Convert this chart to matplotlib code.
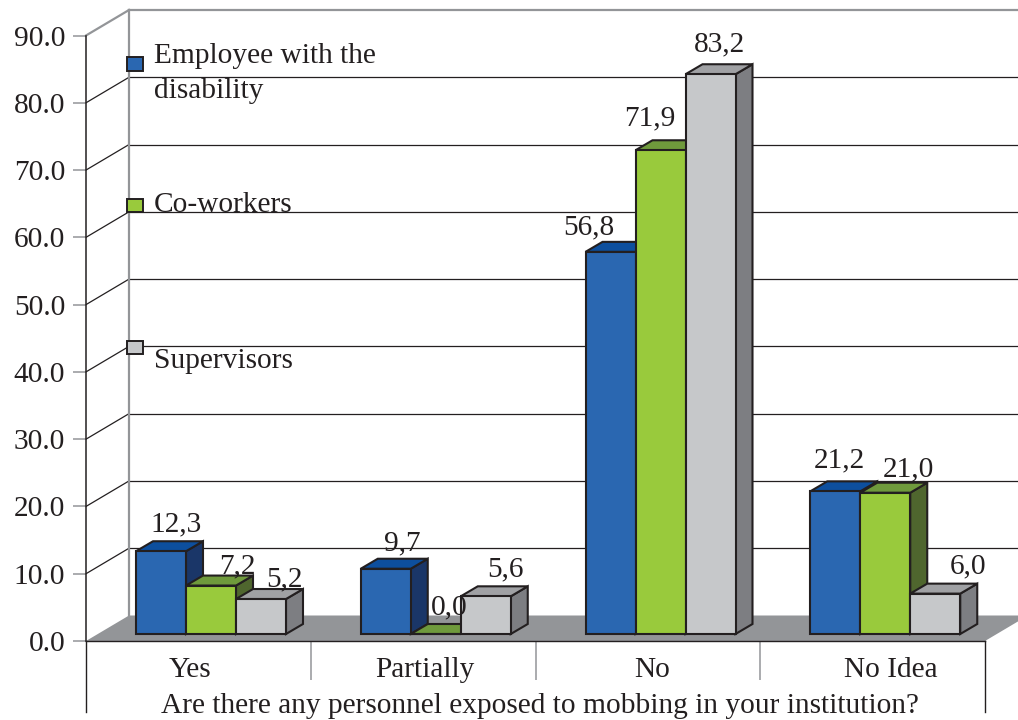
import matplotlib
matplotlib.use("Agg")
import matplotlib.pyplot as plt
from matplotlib.patches import Rectangle
from matplotlib.ticker import FormatStrFormatter

# --- data ---
categories = ["Yes", "Partially", "No", "No Idea"]
series_names = ["Employee with the\ndisability", "Co-workers", "Supervisors"]
employee = [12.3, 9.7, 56.8, 21.2]
coworkers = [7.2, 0.0, 71.9, 21.0]
supervisors = [5.2, 5.6, 83.2, 6.0]
axis_title = "Are there any personnel exposed to mobbing in your institution?"
y_ticks = [0, 10, 20, 30, 40, 50, 60, 70, 80, 90]

# --- style / layout ---
W, H = 1018, 720
plt.rcParams["font.family"] = ["Liberation Serif", "DejaVu Serif"]
INK = "#231f20"
GREY = "#939598"
FS = 21.15
front = ["#2a67b1", "#99ca3c", "#c6c8ca"]
top = ["#0d4f9e", "#6f9a3c", "#a0a1a4"]
side = ["#1a3668", "#4f662e", "#7d7e82"]

L, R, B, T = 86, 985, 641, 35.5      # axes box in pixels
fig = plt.figure(figsize=(W / 100, H / 100), dpi=100)
ax = fig.add_axes([L / W, 1 - B / H, (R - L) / W, (B - T) / H])
ax.set_xlim(0, len(categories))
ax.set_ylim(0, 90)
sx = (R - L) / len(categories)   # px per category
sy = (B - T) / 90                # px per unit

wall_dx, wall_dy = 43 / sx, 25.5 / sy
bar_w = 50 / sx
bar_base = 7 / sy
bar_dx, bar_dy = 17 / sx, 10 / sy

# back wall and grid
for v in y_ticks:
    c = GREY if v in (0, 90) else INK
    lw = 1.6 if v == 90 else 0.9
    if v > 0:
        ax.plot([0, wall_dx], [v, v + wall_dy], color=c, lw=lw, clip_on=False, zorder=1)
        ax.plot([wall_dx, 4 + wall_dx], [v + wall_dy] * 2, color=c, lw=lw, clip_on=False, zorder=1)
ax.plot([wall_dx, wall_dx], [wall_dy, 90 + wall_dy], color=GREY, lw=1.6, clip_on=False, zorder=1)

# floor
ax.fill([0, wall_dx, 4 + wall_dx, 4], [0, wall_dy, wall_dy, 0], facecolor=GREY,
        edgecolor="none", clip_on=False, zorder=1.5)

# bars
label_offsets = [
    [(15, 20), (26, 12), (23, 13)],
    [(17, 18), (14, 20), (20, 20)],
    [(-22, 17), (-11, 25), (9, 23)],
    [(4, 24), (23, 16), (33, 20)],
]
z = 3
for i in range(len(categories)):
    for j, vals in enumerate([employee, coworkers, supervisors]):
        v = vals[i]
        x0 = i + bar_w * (j + 1)
        x1 = x0 + bar_w
        b = bar_base
        t = bar_base + v
        kw = dict(edgecolor=INK, linewidth=1.5, joinstyle="miter", clip_on=False)
        ax.fill([x1, x1 + bar_dx, x1 + bar_dx, x1], [b, b + bar_dy, t + bar_dy, t],
                facecolor=side[j], zorder=z, **kw)
        ax.fill([x0, x0 + bar_dx, x1 + bar_dx, x1], [t, t + bar_dy, t + bar_dy, t],
                facecolor=top[j], zorder=z + 0.1, **kw)
        ax.bar(x0, v, width=bar_w, bottom=b, align="edge", color=front[j],
               zorder=z + 0.2, **kw)
        dx, dy = label_offsets[i][j]
        ax.annotate(f"{v:.1f}".replace(".", ","), xy=((x0 + x1) / 2, t),
                    xytext=(dx * 0.72, dy * 0.72), textcoords="offset points",
                    ha="center", va="baseline", fontsize=FS, color=INK, zorder=20)
        z += 1

# axes
for s in ("top", "right"):
    ax.spines[s].set_visible(False)
ax.patch.set_visible(False)
ax.spines["left"].set_color(INK)
ax.spines["left"].set_linewidth(1.1)
ax.spines["bottom"].set_color(INK)
ax.spines["bottom"].set_linewidth(1.0)
ax.spines["bottom"].set_zorder(2.5)
ax.set_yticks(y_ticks)
ax.yaxis.set_major_formatter(FormatStrFormatter("%.1f"))
ax.tick_params(axis="y", length=9.4, width=1.1, color=GREY, pad=5.5,
               labelsize=FS, labelcolor=INK)

label_shift = [-8, 2, 4.5, 18]
ax.set_xticks([i + 0.5 + s / sx for i, s in enumerate(label_shift)])
ax.set_xticklabels(categories)
ax.tick_params(axis="x", which="major", length=0, pad=11.5, labelsize=FS, labelcolor=INK)
ax.set_xticks([1, 2, 3], minor=True)
ax.tick_params(axis="x", which="minor", length=28, width=1.1, color=GREY)

# outer end rules below the axis
drop = -71 / sy
for x in (0, len(categories)):
    ax.plot([x, x], [0, drop], color=INK, lw=1.0, clip_on=False, zorder=2)

ax.set_xlabel(axis_title, fontsize=FS, color=INK, va="baseline")
ax.xaxis.set_label_coords((540 - L) / (R - L), (B - 713) / (B - T))

# legend drawn on the wall
def fx(p): return p / W
def fy(p): return 1 - p / H
legend_y = [(57.5, 70.5, 98), (199.5, 212.5, 212), (341, 354, 368)]
for (y0, y1, base), name, c in zip(legend_y, series_names, front):
    fig.add_artist(Rectangle((fx(126.5), fy(y1)), 16 / W, (y1 - y0) / H, transform=fig.transFigure,
                             facecolor=c, edgecolor=INK, linewidth=1.4, zorder=6))
    fig.text(fx(154), fy(base), name, fontsize=FS, color=INK, ha="left", va="baseline",
             linespacing=1.45, zorder=6)

fig.savefig("out.png", dpi=100)
